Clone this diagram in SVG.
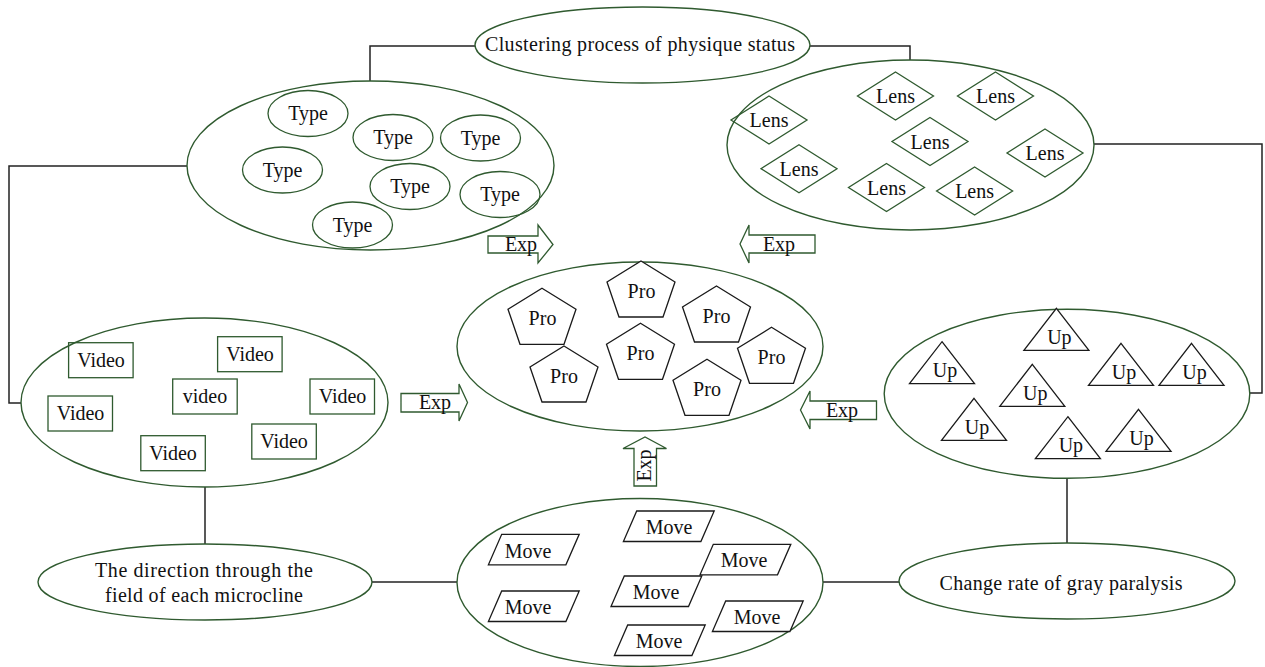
<svg xmlns="http://www.w3.org/2000/svg" xmlns:xlink="http://www.w3.org/1999/xlink" width="1265" height="667" viewBox="0 0 1265 667">
<style>
  .big{fill:#fff;stroke:#2f5a2f;stroke-width:1.4}
  .g{fill:none;stroke:#2f5a2f;stroke-width:1.3}
  .k{fill:#fff;stroke:#1a1a1a;stroke-width:1.3}
  .con{fill:none;stroke:#222;stroke-width:1.5}
  .arr{fill:#fff;stroke:#2f5a2f;stroke-width:1.3}
  text{font-family:"Liberation Serif","Times New Roman",serif;font-size:20px;fill:#111;text-anchor:middle}
</style>
<defs>
  <path id="pent" d="M0,0 L34,21 L22,56 L-22,56 L-34,21 Z"/>
  <path id="dia" d="M0,-24 L38,0 L0,24 L-38,0 Z"/>
  <path id="tri" d="M0,0 L32.5,42 L-32.5,42 Z"/>
  <path id="para" d="M0,0 H77.5 L64.2,30.5 H-13.3 Z"/>
  <rect id="box" x="0" y="0" width="64.5" height="35"/>
  <ellipse id="oval" cx="0" cy="0" rx="40" ry="23"/>
</defs>
<rect width="1265" height="667" fill="#fff"/>

<g id="connectors">
  <polyline class="con" points="475,46 370,46 370,81"/>
  <polyline class="con" points="810,46 910,46 910,60"/>
  <polyline class="con" points="187,166 9,166 9,403 21,403"/>
  <polyline class="con" points="1094,144 1262,144 1262,393 1249,393"/>
  <line class="con" x1="205" y1="487" x2="205" y2="544"/>
  <line class="con" x1="1067" y1="478" x2="1067" y2="543"/>
  <line class="con" x1="372" y1="582" x2="457" y2="582"/>
  <line class="con" x1="823" y1="582" x2="899" y2="582"/>
</g>

<g id="arrows">
  <g id="exp-topleft">
    <path class="arr" d="M488,236 H538 V225 L553,244.5 L538,263 V253 H488 Z"/>
    <text x="521" y="251">Exp</text>
  </g>
  <g id="exp-topright">
    <path class="arr" d="M815,235 H749 V225 L740,244 L749,263 V253 H815 Z"/>
    <text x="779" y="251">Exp</text>
  </g>
  <g id="exp-left">
    <path class="arr" d="M401,393.5 H459 V384 L467.5,402.5 L459,421 V412 H401 Z"/>
    <text x="435" y="409">Exp</text>
  </g>
  <g id="exp-right">
    <path class="arr" d="M876.5,401 H810 V391 L800.5,410 L810,429 V419.5 H876.5 Z"/>
    <text x="842" y="416.5">Exp</text>
  </g>
  <g id="exp-bottom">
    <path class="arr" d="M634,486 V448.5 H623 L645,437 L666.5,448.5 H656.5 V486 Z"/>
    <text transform="translate(651,465.5) rotate(-90)" x="0" y="0">Exp</text>
  </g>
</g>

<g id="node-clustering">
  <ellipse class="big" cx="642.5" cy="45" rx="167.5" ry="38"/>
  <text x="640" y="51" textLength="310" lengthAdjust="spacing">Clustering process of physique status</text>
</g>

<g id="node-type">
  <ellipse class="big" cx="370.5" cy="165.5" rx="183.5" ry="84.5"/>
  <g class="g">
    <use href="#oval" x="308" y="113.5"/>
    <use href="#oval" x="393" y="137.5"/>
    <use href="#oval" x="480.5" y="138"/>
    <use href="#oval" x="282.5" y="170"/>
    <use href="#oval" x="410" y="186.5"/>
    <use href="#oval" x="500" y="194.5"/>
    <use href="#oval" x="352.5" y="225"/>
  </g>
  <text x="308" y="120">Type</text>
  <text x="393" y="144">Type</text>
  <text x="480.5" y="144.5">Type</text>
  <text x="282.5" y="176.5">Type</text>
  <text x="410" y="193">Type</text>
  <text x="500" y="201">Type</text>
  <text x="352.5" y="231.5">Type</text>
</g>

<g id="node-lens">
  <ellipse class="big" cx="910.5" cy="145" rx="183.5" ry="85"/>
  <g class="g">
    <use href="#dia" x="769" y="120"/>
    <use href="#dia" x="895.5" y="96"/>
    <use href="#dia" x="995.5" y="96"/>
    <use href="#dia" x="930" y="141.5"/>
    <use href="#dia" x="799" y="168.7"/>
    <use href="#dia" x="1045" y="153"/>
    <use href="#dia" x="886.5" y="187.5"/>
    <use href="#dia" x="974.6" y="191"/>
  </g>
  <text x="769" y="127">Lens</text>
  <text x="895.5" y="103">Lens</text>
  <text x="995.5" y="103">Lens</text>
  <text x="930" y="148.5">Lens</text>
  <text x="799" y="175.5">Lens</text>
  <text x="1045" y="160">Lens</text>
  <text x="886.5" y="194.5">Lens</text>
  <text x="974.6" y="198">Lens</text>
</g>

<g id="node-pro">
  <ellipse class="big" cx="640" cy="346.5" rx="183" ry="84.5"/>
  <g class="k">
    <use href="#pent" x="542" y="288.3"/>
    <use href="#pent" x="641" y="261"/>
    <use href="#pent" x="716.5" y="286"/>
    <use href="#pent" x="564" y="346"/>
    <use href="#pent" x="640.5" y="323.3"/>
    <use href="#pent" x="771.5" y="327.3"/>
    <use href="#pent" x="707" y="359.3"/>
  </g>
  <text x="542.5" y="325">Pro</text>
  <text x="641.5" y="297.5">Pro</text>
  <text x="716.5" y="322.5">Pro</text>
  <text x="564" y="382.5">Pro</text>
  <text x="640.5" y="360">Pro</text>
  <text x="771.5" y="364">Pro</text>
  <text x="707" y="396">Pro</text>
</g>

<g id="node-video">
  <ellipse class="big" cx="204.5" cy="402.5" rx="183.5" ry="84.5"/>
  <g class="g">
    <use href="#box" x="68.6" y="342.7"/>
    <use href="#box" x="217.6" y="336.7"/>
    <use href="#box" x="172.7" y="379"/>
    <use href="#box" x="310" y="379"/>
    <use href="#box" x="48" y="396"/>
    <use href="#box" x="251.8" y="424"/>
    <use href="#box" x="140.8" y="435.7"/>
  </g>
  <text x="101" y="366.5">Video</text>
  <text x="250" y="360.5">Video</text>
  <text x="205" y="403">video</text>
  <text x="342.5" y="403">Video</text>
  <text x="80.5" y="420">Video</text>
  <text x="284" y="448">Video</text>
  <text x="173" y="459.5">Video</text>
</g>

<g id="node-up">
  <ellipse class="big" cx="1067" cy="393.8" rx="182.8" ry="84.5"/>
  <g class="k">
    <use href="#tri" x="942" y="341.7"/>
    <use href="#tri" x="1056.4" y="308.3"/>
    <use href="#tri" x="1032.3" y="364.3"/>
    <use href="#tri" x="1121" y="343.3"/>
    <use href="#tri" x="1191.5" y="343.3"/>
    <use href="#tri" x="974" y="398.3"/>
    <use href="#tri" x="1067.9" y="416.7"/>
    <use href="#tri" x="1138.5" y="409.3"/>
  </g>
  <text x="945" y="377">Up</text>
  <text x="1059.4" y="343.5">Up</text>
  <text x="1035.3" y="399.5">Up</text>
  <text x="1124" y="378.5">Up</text>
  <text x="1194.5" y="378.5">Up</text>
  <text x="977" y="433.5">Up</text>
  <text x="1070.9" y="452">Up</text>
  <text x="1141.5" y="444.5">Up</text>
</g>

<g id="node-move">
  <ellipse class="big" cx="640" cy="582.5" rx="183" ry="84"/>
  <g class="k">
    <use href="#para" x="501.7" y="534.3"/>
    <use href="#para" x="501.7" y="591"/>
    <use href="#para" x="636.7" y="511"/>
    <use href="#para" x="713.3" y="544.3"/>
    <use href="#para" x="624.3" y="576"/>
    <use href="#para" x="725.7" y="601"/>
    <use href="#para" x="627.7" y="625"/>
  </g>
  <text x="528" y="557.5">Move</text>
  <text x="528" y="614">Move</text>
  <text x="669" y="534">Move</text>
  <text x="744" y="567.3">Move</text>
  <text x="656" y="599">Move</text>
  <text x="757" y="624">Move</text>
  <text x="659" y="648">Move</text>
</g>

<g id="node-direction">
  <ellipse class="big" cx="205" cy="582" rx="167" ry="38"/>
  <text x="204" y="576.5" textLength="218" lengthAdjust="spacing">The direction through the</text>
  <text x="204" y="601.5" textLength="198" lengthAdjust="spacing">field of each microcline</text>
</g>

<g id="node-change">
  <ellipse class="big" cx="1067" cy="581" rx="168" ry="38"/>
  <text x="1061" y="589.5" textLength="243" lengthAdjust="spacing">Change rate of gray paralysis</text>
</g>
</svg>
